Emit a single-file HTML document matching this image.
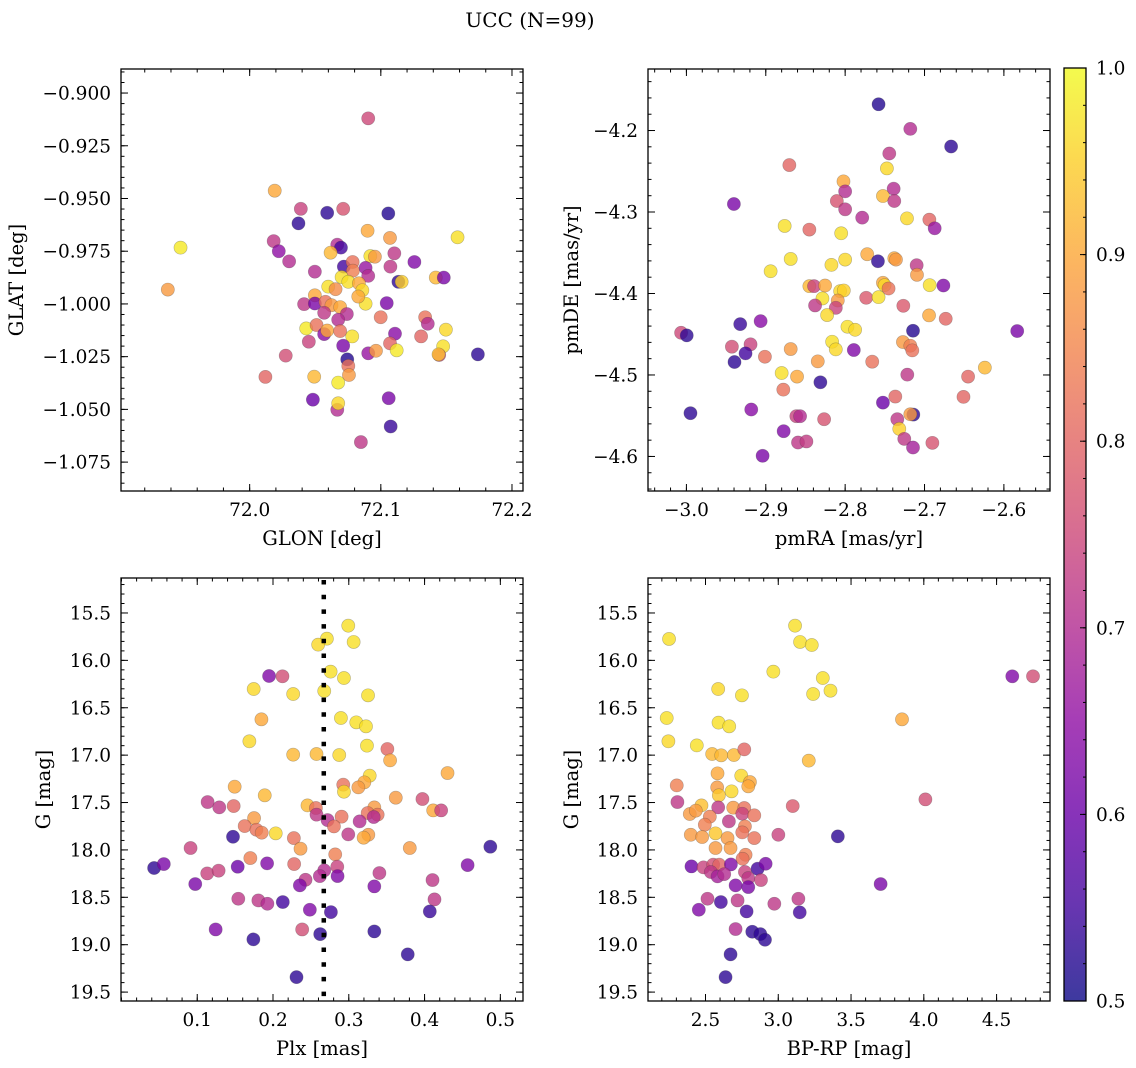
<!DOCTYPE html>
<html><head><meta charset="utf-8"><style>
html,body{margin:0;padding:0;background:#fff;}
svg{display:block;font-family:"DejaVu Serif","Liberation Serif",serif;}
</style></head><body>
<svg id="fig" width="1136" height="1068" viewBox="0 0 1136 1068" xmlns="http://www.w3.org/2000/svg">
<text x="530" y="27" font-size="20" text-anchor="middle">UCC (N=99)</text>
</svg>
<script>
// ---- Panel 1: GLON / GLAT ----
const p1Lon=[72.0904,72.0191,72.039,72.0591,72.0713,72.1057,72.0372,72.0899,72.107,72.1585,71.9473,72.0183,72.0222,72.0301,72.0668,72.0696,72.0617,72.092,72.0955,72.1103,72.1256,72.1073,72.0718,72.0785,72.0787,72.0884,72.0904,72.0497,72.0701,72.0752,72.0833,72.0859,72.1134,72.1159,72.1419,72.148,72.0599,72.0655,72.0497,72.0415,72.0497,72.0578,72.0624,72.069,72.0568,72.0741,72.0884,72.1045,72.0828,72.0675,72.0999,72.1338,72.1358,72.0431,72.051,72.0568,72.0591,72.069,72.0782,72.1108,72.1496,72.1307,72.0451,72.0713,72.107,72.0904,72.0963,72.1121,72.1475,72.1445,72.144,72.174,72.0275,72.0744,72.0752,72.0757,72.012,72.0492,72.0675,72.0482,72.106,72.0668,72.0675,72.1075,72.0848,71.9376];
const p1Lat=[-0.912,-0.9463,-0.9549,-0.9568,-0.9549,-0.9571,-0.9618,-0.9653,-0.9687,-0.9684,-0.9733,-0.9702,-0.975,-0.9798,-0.9719,-0.9733,-0.9757,-0.9773,-0.9776,-0.976,-0.9801,-0.9823,-0.9823,-0.9801,-0.9842,-0.9829,-0.9867,-0.9847,-0.9873,-0.9895,-0.9902,-0.9935,-0.9895,-0.9895,-0.9875,-0.9875,-0.9918,-0.993,-0.9959,-1.0001,-0.9998,-0.999,-1.0006,-1.0015,-1.0042,-1.0048,-0.9999,-0.9996,-0.9965,-1.0075,-1.0063,-1.0063,-1.0094,-1.0116,-1.01,-1.0143,-1.0126,-1.0129,-1.0154,-1.0141,-1.0122,-1.0154,-1.0179,-1.0198,-1.0187,-1.0234,-1.0222,-1.022,-1.0201,-1.0242,-1.0239,-1.0239,-1.0245,-1.0263,-1.0294,-1.0337,-1.0346,-1.0345,-1.0373,-1.0454,-1.0447,-1.0502,-1.0471,-1.0581,-1.0655,-0.9932];
const p1Prob=[0.75,0.9,0.74,0.53,0.77,0.52,0.53,0.9,0.88,0.97,0.98,0.72,0.65,0.7,0.7,0.55,0.92,0.97,0.88,0.72,0.63,0.72,0.55,0.82,0.84,0.66,0.7,0.7,0.97,0.97,0.9,0.96,0.53,0.95,0.92,0.62,0.97,0.86,0.9,0.72,0.62,0.82,0.88,0.9,0.72,0.7,0.97,0.62,0.9,0.7,0.82,0.82,0.7,0.98,0.82,0.64,0.9,0.82,0.97,0.64,0.96,0.8,0.74,0.62,0.8,0.66,0.88,0.98,0.97,0.76,0.93,0.53,0.76,0.52,0.82,0.88,0.8,0.92,0.98,0.6,0.62,0.7,0.96,0.54,0.72,0.88];
const p1XTicks=[72.0,72.1,72.2];
const p1XTickLabels=["72.0","72.1","72.2"];
const p1YTicks=[-0.900,-0.925,-0.950,-0.975,-1.000,-1.025,-1.050,-1.075];
const p1YTickLabels=["\u22120.900","\u22120.925","\u22120.950","\u22120.975","\u22121.000","\u22121.025","\u22121.050","\u22121.075"];

// ---- Panel 2: pmRA / pmDE ----
const p2Pmra=[-2.7579,-2.7179,-2.6665,-2.7444,-2.7474,-2.8703,-2.8021,-2.8,-2.7389,-2.8105,-2.7524,-2.7381,-2.9402,-2.8,-2.7785,-2.8762,-2.8451,-2.805,-2.7221,-2.6939,-2.6872,-2.8686,-2.8939,-2.8173,-2.8,-2.7722,-2.7587,-2.7381,-2.736,-2.7099,-2.7095,-2.8451,-2.8392,-2.8253,-2.8063,-2.8017,-2.7524,-2.7503,-2.7453,-2.6935,-2.6762,-2.8286,-2.8093,-2.8379,-2.8118,-2.8227,-2.7735,-2.7579,-2.7267,-2.6943,-2.6733,-2.7971,-2.7874,-2.7145,-2.5832,-3.0067,-2.9996,-2.9322,-2.9065,-2.9427,-2.9192,-2.9255,-2.9394,-2.9011,-2.8686,-2.8164,-2.8118,-2.7891,-2.8345,-2.7659,-2.7272,-2.7179,-2.7154,-2.88,-2.8606,-2.8779,-2.8312,-2.7217,-2.6451,-2.624,-2.6509,-2.7368,-2.7524,-2.9949,-2.9183,-2.8615,-2.8568,-2.8265,-2.7141,-2.7179,-2.7343,-2.7318,-2.8775,-2.8594,-2.8488,-2.7255,-2.7145,-2.6901,-2.904];
const p2Pmde=[-4.1678,-4.198,-4.2196,-4.2282,-4.2465,-4.2424,-4.2624,-4.2747,-4.2714,-4.2865,-4.2804,-4.2865,-4.2902,-4.2967,-4.3069,-4.3171,-4.3216,-4.3261,-4.3078,-4.3094,-4.32,-4.3576,-4.3727,-4.3649,-4.3584,-4.3518,-4.3604,-4.3567,-4.3584,-4.3653,-4.3771,-4.391,-4.391,-4.3902,-4.3971,-4.3963,-4.3869,-4.3898,-4.3939,-4.3898,-4.3902,-4.4061,-4.4086,-4.4147,-4.4176,-4.4265,-4.4053,-4.4045,-4.4151,-4.4269,-4.431,-4.4408,-4.4445,-4.4457,-4.4461,-4.4482,-4.4514,-4.4376,-4.4339,-4.4653,-4.4624,-4.4735,-4.4841,-4.4776,-4.4682,-4.4592,-4.4686,-4.4694,-4.4833,-4.4837,-4.4596,-4.4641,-4.4698,-4.4976,-4.502,-4.518,-4.509,-4.4996,-4.502,-4.491,-4.5269,-4.5265,-4.5339,-4.5469,-4.5424,-4.5506,-4.5506,-4.5543,-4.5486,-4.5482,-4.5543,-4.5661,-4.569,-4.5829,-4.5816,-4.5784,-4.589,-4.5833,-4.5992];
const p2Prob=[0.52,0.7,0.53,0.72,0.96,0.8,0.9,0.7,0.7,0.77,0.92,0.72,0.62,0.72,0.7,0.97,0.8,0.97,0.96,0.8,0.66,0.97,0.97,0.96,0.96,0.9,0.53,0.9,0.88,0.72,0.88,0.92,0.74,0.9,0.96,0.95,0.9,0.96,0.82,0.97,0.63,0.97,0.88,0.72,0.74,0.96,0.78,0.97,0.78,0.9,0.8,0.97,0.96,0.52,0.62,0.75,0.53,0.54,0.64,0.76,0.74,0.55,0.53,0.82,0.88,0.97,0.96,0.63,0.88,0.82,0.88,0.84,0.82,0.97,0.9,0.82,0.53,0.72,0.8,0.92,0.8,0.8,0.6,0.53,0.64,0.74,0.7,0.77,0.53,0.88,0.72,0.95,0.63,0.72,0.73,0.72,0.68,0.77,0.62];
const p2XTicks=[-3.0,-2.9,-2.8,-2.7,-2.6];
const p2XTickLabels=["\u22123.0","\u22122.9","\u22122.8","\u22122.7","\u22122.6"];
const p2YTicks=[-4.2,-4.3,-4.4,-4.5,-4.6];
const p2YTickLabels=["\u22124.2","\u22124.3","\u22124.4","\u22124.5","\u22124.6"];

// ---- Panel 3: Plx / G ----
const p3Plx=[0.2993,0.2711,0.2596,0.3064,0.276,0.2936,0.1948,0.2125,0.1745,0.2266,0.2676,0.3254,0.1847,0.2896,0.3099,0.3227,0.1688,0.324,0.3509,0.2266,0.2574,0.2874,0.3545,0.4303,0.3276,0.3205,0.2927,0.3126,0.2936,0.1494,0.1891,0.1137,0.1291,0.1481,0.2455,0.2566,0.2574,0.272,0.2905,0.2804,0.3337,0.3249,0.3381,0.3329,0.3143,0.362,0.3972,0.4114,0.4219,0.175,0.1626,0.1781,0.1851,0.2036,0.2993,0.3258,0.3196,0.1472,0.2275,0.2363,0.0912,0.2821,0.3805,0.4868,0.1701,0.0431,0.0559,0.1534,0.1922,0.2279,0.2848,0.4568,0.1132,0.1282,0.2676,0.2618,0.2852,0.3404,0.2429,0.2354,0.0974,0.4105,0.3337,0.1542,0.1807,0.1926,0.2129,0.4131,0.2486,0.2764,0.4069,0.1243,0.2385,0.2623,0.3337,0.1741,0.3778,0.231];
const p3G=[15.634,15.771,15.834,15.806,16.119,16.186,16.165,16.168,16.302,16.355,16.323,16.369,16.622,16.608,16.654,16.696,16.854,16.9,16.935,16.995,16.988,16.999,17.055,17.189,17.217,17.287,17.312,17.34,17.386,17.333,17.424,17.495,17.551,17.537,17.53,17.558,17.628,17.685,17.649,17.752,17.551,17.611,17.628,17.653,17.699,17.449,17.463,17.583,17.583,17.664,17.748,17.787,17.818,17.825,17.836,17.84,17.871,17.861,17.875,17.987,17.98,18.047,17.98,17.966,18.086,18.191,18.149,18.177,18.142,18.149,18.177,18.16,18.248,18.219,18.216,18.276,18.276,18.244,18.315,18.374,18.36,18.318,18.385,18.515,18.533,18.568,18.55,18.522,18.631,18.656,18.649,18.839,18.839,18.888,18.86,18.944,19.102,19.342];
const p3Prob=[0.97,0.97,0.96,0.97,0.97,0.97,0.63,0.76,0.96,0.96,0.97,0.97,0.9,0.97,0.97,0.97,0.96,0.97,0.8,0.92,0.92,0.96,0.9,0.9,0.96,0.9,0.82,0.88,0.96,0.9,0.92,0.72,0.72,0.8,0.92,0.82,0.72,0.7,0.82,0.82,0.88,0.82,0.82,0.7,0.7,0.88,0.76,0.9,0.74,0.88,0.82,0.82,0.84,0.96,0.72,0.88,0.9,0.53,0.82,0.88,0.74,0.84,0.88,0.53,0.84,0.53,0.62,0.6,0.63,0.8,0.74,0.63,0.74,0.74,0.7,0.7,0.63,0.72,0.72,0.63,0.62,0.72,0.63,0.72,0.72,0.7,0.55,0.72,0.63,0.55,0.54,0.63,0.76,0.53,0.53,0.53,0.53,0.53];
const p3PlxMedian=[0.267];
const p3XTicks=[0.1,0.2,0.3,0.4,0.5];
const p3XTickLabels=["0.1","0.2","0.3","0.4","0.5"];
const gTicks=[15.5,16.0,16.5,17.0,17.5,18.0,18.5,19.0,19.5];
const gTickLabels=["15.5","16.0","16.5","17.0","17.5","18.0","18.5","19.0","19.5"];

// ---- Panel 4: BP-RP / G ----
const p4Bprp=[2.2497,3.1154,3.1498,3.2302,2.9661,3.306,3.3588,3.2394,4.6079,4.7503,2.5873,2.7503,2.2336,2.5896,2.663,3.8502,2.2451,2.4403,2.5459,2.6079,2.6952,2.7664,3.2095,2.5827,2.7457,2.8054,2.7939,2.3025,2.5804,2.6791,2.5918,2.3071,2.4724,2.5873,2.6906,2.7664,3.0993,4.0109,2.3921,2.4334,2.5298,2.7526,2.8352,2.6607,2.4954,2.771,2.399,2.477,2.5689,2.6515,2.7526,2.8352,3.0006,3.4093,2.5689,2.6722,2.7755,2.7549,2.4036,2.4862,2.5528,2.5941,2.6745,2.5367,2.5827,2.6286,2.771,2.8582,2.9133,2.7939,2.8812,2.7067,2.7939,3.7032,2.5138,2.4541,2.6056,2.7204,2.7824,2.973,3.1383,3.1475,2.7067,2.8215,2.8766,2.9087,2.6722,2.6378];
const p4G=[15.774,15.634,15.806,15.838,16.119,16.186,16.32,16.355,16.168,16.168,16.302,16.369,16.608,16.657,16.696,16.622,16.854,16.897,16.988,17.002,16.999,16.939,17.058,17.192,17.217,17.284,17.329,17.319,17.34,17.382,17.424,17.495,17.53,17.551,17.554,17.558,17.537,17.467,17.621,17.586,17.649,17.618,17.635,17.699,17.734,17.752,17.84,17.864,17.825,17.875,17.815,17.875,17.84,17.857,17.98,17.98,18.051,18.093,18.174,18.184,18.156,18.156,18.153,18.233,18.279,18.255,18.233,18.198,18.146,18.297,18.318,18.374,18.392,18.36,18.515,18.631,18.55,18.533,18.649,18.568,18.515,18.659,18.835,18.863,18.888,18.948,19.102,19.342];
const p4Prob=[0.97,0.97,0.97,0.97,0.97,0.97,0.97,0.97,0.63,0.76,0.96,0.97,0.97,0.97,0.97,0.9,0.96,0.97,0.92,0.92,0.92,0.8,0.92,0.9,0.96,0.9,0.9,0.84,0.88,0.96,0.94,0.72,0.93,0.72,0.88,0.82,0.78,0.76,0.88,0.88,0.84,0.74,0.82,0.72,0.84,0.84,0.88,0.88,0.94,0.88,0.82,0.82,0.74,0.53,0.88,0.88,0.84,0.82,0.6,0.74,0.76,0.8,0.63,0.72,0.68,0.7,0.74,0.55,0.62,0.72,0.74,0.63,0.62,0.62,0.72,0.63,0.55,0.72,0.55,0.72,0.72,0.55,0.7,0.53,0.53,0.53,0.53,0.53];
const p4XTicks=[2.5,3.0,3.5,4.0,4.5];
const p4XTickLabels=["2.5","3.0","3.5","4.0","4.5"];

// ---- Colorbar ----
const cbTicks=[0.5,0.6,0.7,0.8,0.9,1.0];
const cbTickLabels=["0.5","0.6","0.7","0.8","0.9","1.0"];

const NS="http://www.w3.org/2000/svg";
const svg=document.getElementById('fig');
function mk(tag,attrs,parent){const e=document.createElementNS(NS,tag);for(const k in attrs)e.setAttribute(k,attrs[k]);(parent||svg).appendChild(e);return e;}
const plasmaStops=[[13,8,135],[65,4,157],[106,0,168],[143,13,164],[177,42,144],[204,71,120],[225,100,98],[242,132,75],[252,166,54],[252,206,37],[240,249,33]];
function plasma(t){t=Math.max(0,Math.min(1,t));const s=t*10;const i=Math.min(9,Math.floor(s));const f=s-i;const a=plasmaStops[i],b=plasmaStops[i+1];return 'rgb('+a.map((v,k)=>Math.round(v+(b[k]-v)*f)).join(',')+')';}
function cnorm(v){return (v-0.5)/0.5;}
function scale(d0,d1,r0,r1){return v=>r0+(v-d0)/(d1-d0)*(r1-r0);}

function panel(cfg){
  const g=mk('g',{});
  
  
  const {x0,x1,y0,y1}=cfg.box;
  const sx=scale(cfg.xd[0],cfg.xd[1],x0,x1), sy=scale(cfg.yd[0],cfg.yd[1],y0,y1);
  const clip=mk('clipPath',{id:cfg.name+'-clip'},g);
  mk('rect',{x:x0,y:y0,width:x1-x0,height:y1-y0},clip);
  const pts=mk('g',{'clip-path':'url(#'+cfg.name+'-clip)'},g);
  
  
  for(let i=0;i<cfg.xs.length;i++){
    const c=mk('circle',{cx:sx(cfg.xs[i]).toFixed(2),cy:sy(cfg.ys[i]).toFixed(2),r:6.6,fill:plasma(cnorm(cfg.cs[i])),'fill-opacity':0.8,stroke:'rgba(60,60,60,0.35)','stroke-width':0.6},pts);
    
    
  }
  if(cfg.vline){
    const l=mk('line',{x1:sx(cfg.vline[0]),x2:sx(cfg.vline[0]),y1:y0+2,y2:y1,stroke:'#000','stroke-width':4.5,'stroke-dasharray':'4.5 10.2'},g);
    
    
  }
  const tk=mk('g',{stroke:'#000','stroke-width':1},g);
  
  
  const xlo=Math.min(cfg.xd[0],cfg.xd[1]), xhi=Math.max(cfg.xd[0],cfg.xd[1]);
  const ylo=Math.min(cfg.yd[0],cfg.yd[1]), yhi=Math.max(cfg.yd[0],cfg.yd[1]);
  for(let k=Math.ceil(xlo/cfg.xminor-1e-6);k*cfg.xminor<=xhi+1e-9;k++){const px=sx(k*cfg.xminor);
    mk('line',{x1:px,x2:px,y1:y1,y2:y1-3.5},tk);mk('line',{x1:px,x2:px,y1:y0,y2:y0+3.5},tk);}
  for(let k=Math.ceil(ylo/cfg.yminor-1e-6);k*cfg.yminor<=yhi+1e-9;k++){const py=sy(k*cfg.yminor);
    mk('line',{x1:x0,x2:x0+3.5,y1:py,y2:py},tk);mk('line',{x1:x1,x2:x1-3.5,y1:py,y2:py},tk);}
  cfg.xt.forEach((v,i)=>{const px=sx(v);
    mk('line',{x1:px,x2:px,y1:y1,y2:y1-7},tk);mk('line',{x1:px,x2:px,y1:y0,y2:y0+7},tk);
    const t=mk('text',{x:px,y:y1+25,'font-size':18.5,'text-anchor':'middle',stroke:'none'},g);t.textContent=cfg.xtl[i];
    
    });
  cfg.yt.forEach((v,i)=>{const py=sy(v);
    mk('line',{x1:x0,x2:x0+7,y1:py,y2:py},tk);mk('line',{x1:x1,x2:x1-7,y1:py,y2:py},tk);
    const t=mk('text',{x:x0-10,y:py+6.5,'font-size':18.5,'text-anchor':'end'},g);t.textContent=cfg.ytl[i];
    
    });
  const fr=mk('rect',{x:x0,y:y0,width:x1-x0,height:y1-y0,fill:'none',stroke:'#000','stroke-width':1.3},g);
  
  
  const xl=mk('text',{x:(x0+x1)/2,y:y1+54,'font-size':19.5,'text-anchor':'middle'},g);xl.textContent=cfg.xlabel;
  
  
  const yl=mk('text',{x:cfg.ylx,y:(y0+y1)/2,'font-size':19.5,'text-anchor':'middle',transform:'rotate(-90 '+cfg.ylx+' '+((y0+y1)/2)+')'},g);yl.textContent=cfg.ylabel;
  
  
}

panel({name:'glon-glat-panel',box:{x0:121,x1:523,y0:69,y1:491},xd:[71.9019,72.2084],yd:[-0.8886,-1.0887],xs:p1Lon,ys:p1Lat,cs:p1Prob,xt:p1XTicks,xtl:p1XTickLabels,yt:p1YTicks,ytl:p1YTickLabels,xminor:0.02,yminor:0.005,xlabel:'GLON [deg]',ylabel:'GLAT [deg]',ylx:23});
panel({name:'pm-panel',box:{x0:648,x1:1050,y0:69,y1:491},xd:[-3.0484,-2.5419],yd:[-4.1245,-4.6424],xs:p2Pmra,ys:p2Pmde,cs:p2Prob,xt:p2XTicks,xtl:p2XTickLabels,yt:p2YTicks,ytl:p2YTickLabels,xminor:0.02,yminor:0.02,xlabel:'pmRA [mas/yr]',ylabel:'pmDE [mas/yr]',ylx:578});
panel({name:'plx-g-panel',box:{x0:121,x1:523,y0:578,y1:1001},xd:[-0.0006,0.5299],yd:[15.131,19.594],xs:p3Plx,ys:p3G,cs:p3Prob,xt:p3XTicks,xtl:p3XTickLabels,yt:gTicks,ytl:gTickLabels,xminor:0.02,yminor:0.1,xlabel:'Plx [mas]',ylabel:'G [mag]',ylx:50,vline:p3PlxMedian});
panel({name:'cmd-panel',box:{x0:648,x1:1050,y0:578,y1:1001},xd:[2.105,4.867],yd:[15.131,19.594],xs:p4Bprp,ys:p4G,cs:p4Prob,xt:p4XTicks,xtl:p4XTickLabels,yt:gTicks,ytl:gTickLabels,xminor:0.1,yminor:0.1,xlabel:'BP-RP [mag]',ylabel:'G [mag]',ylx:578});

(function(){
  const g=mk('g',{});
  
  
  const x0=1064,x1=1086,y0=68,y1=1001;
  const sy=scale(0.5,1.0,y1,y0);
  const defs=mk('defs',{},g);
  const lg=mk('linearGradient',{id:'cbgrad',x1:0,y1:1,x2:0,y2:0},defs);
  for(let i=0;i<=20;i++){mk('stop',{offset:(i/20),'stop-color':plasma(i/20)},lg);}
  mk('rect',{x:x0,y:y0,width:x1-x0,height:y1-y0,fill:'url(#cbgrad)','fill-opacity':0.8},g);
  const tk=mk('g',{stroke:'#000','stroke-width':1},g);
  for(let k=25;k<=50;k++){const py=sy(k*0.02);mk('line',{x1:x1,x2:x1-3,y1:py,y2:py},tk);}
  cbTicks.forEach((v,i)=>{const py=sy(v);mk('line',{x1:x1,x2:x1-6,y1:py,y2:py},tk);
    const t=mk('text',{x:x1+10,y:py+6.5,'font-size':18.5},g);t.textContent=cbTickLabels[i];
    
    });
  mk('rect',{x:x0,y:y0,width:x1-x0,height:y1-y0,fill:'none',stroke:'#000','stroke-width':1.3},g);
})();
</script>
</body></html>
